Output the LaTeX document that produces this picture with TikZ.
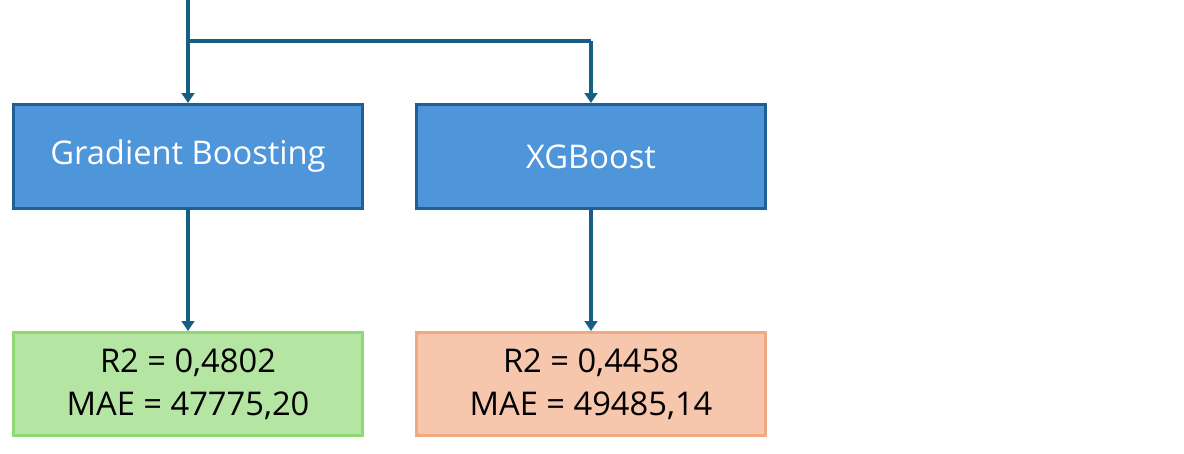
\documentclass[tikz,border=0pt]{standalone}
\usepackage{fontspec}
\setmainfont{Open Sans}
\usetikzlibrary{arrows.meta}
\definecolor{bluefill}{HTML}{4E95D9}
\definecolor{blueedge}{HTML}{1F5F96}
\definecolor{linec}{HTML}{156082}
\definecolor{greenfill}{HTML}{B4E5A2}
\definecolor{greenedge}{HTML}{8ED873}
\definecolor{orangefill}{HTML}{F6C6AD}
\definecolor{orangeedge}{HTML}{F1A983}
\tikzset{
  model/.style={draw=blueedge, fill=bluefill, line width=2.2pt, minimum width=352*0.75pt-2.2pt, minimum height=107*0.75pt-2.2pt, text=white, font=\fontsize{24.5}{30}\selectfont, inner sep=0pt},
  resgreen/.style={draw=greenedge, fill=greenfill, line width=2.2pt, minimum width=352*0.75pt-2.2pt, minimum height=106*0.75pt-2.2pt, text=black, font=\fontsize{24.5}{32}\selectfont, align=center, inner sep=0pt},
  resorange/.style={resgreen, draw=orangeedge, fill=orangefill},
  conn/.style={draw=linec, line width=2.4pt, -{Triangle[length=7.5pt,width=9.5pt]}},
  plain/.style={draw=linec, line width=2.4pt}
}
\begin{document}
\begin{tikzpicture}[x=0.75pt,y=-0.75pt]
\useasboundingbox (0,0) rectangle (1184,453);
\node[model] (gb) at (188,156.5) {Gradient Boosting};
\node[model] (xgb) at (591,156.5) {XGBoost};
\node[resgreen] (rgb) at (188,384) {R2 = 0,4802\\MAE = 47775,20};
\node[resorange] (rxgb) at (591,384) {R2 = 0,4458\\MAE = 49485,14};
\coordinate (top) at (188,0);
\coordinate (split) at (188,41);
\coordinate (turn) at (591,41);
\draw[conn] (top) -- (gb.north);
\draw[plain] (split) -- (turn);
\draw[conn] (turn) -- (xgb.north);
\draw[conn] (gb.south) -- (rgb.north);
\draw[conn] (xgb.south) -- (rxgb.north);
\end{tikzpicture}
\end{document}
